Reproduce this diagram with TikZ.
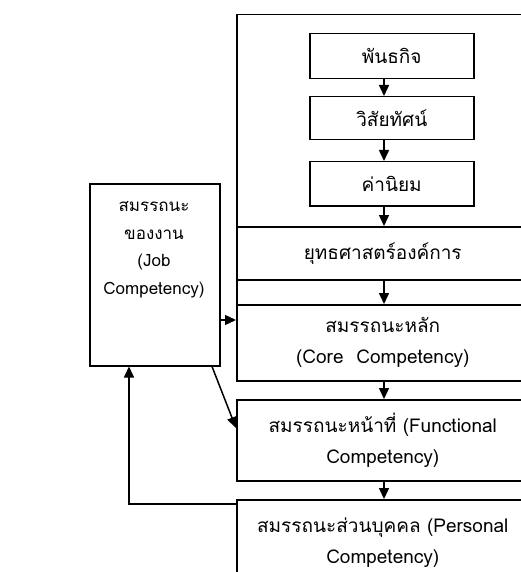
\documentclass[tikz,border=0pt]{standalone}
\usepackage{fontspec}
\setmainfont[Script=Thai]{Loma}
\usetikzlibrary{arrows.meta}

\begin{document}
\begin{tikzpicture}[x=1pt, y=-1pt,
	box/.style={rectangle, draw=black, line width=1.5pt, inner sep=0pt, anchor=north west, align=center, font=\fontsize{19}{31}\selectfont},
	arr/.style={draw=black, line width=1.5pt, -{Triangle[width=10pt,length=11pt]}}]
			\useasboundingbox (0,0) rectangle (521,572);
			\clip (0,0) rectangle (521,572);
			
			\node[box, minimum width=292pt, minimum height=366pt] (frame) at (236,14){};
			\node[box, minimum width=164pt, minimum height=45pt] (mission) at (309,33){พันธกิจ};
			\node[box, minimum width=164pt, minimum height=43pt] (vision) at (309,96){วิสัยทัศน์};
			\node[box, minimum width=164pt, minimum height=44pt] (values) at (309,161){ค่านิยม};
			\node[box, minimum width=292pt, minimum height=53pt] (strategy) at (236,226){ยุทธศาสตร์องค์การ};
			\node[box, minimum width=292pt, minimum height=76pt] (core) at (236,304){สมรรถนะหลัก\\(Core~ Competency)};
			\node[box, minimum width=292pt, minimum height=81pt] (func) at (236,399){สมรรถนะหน้าที่ (Functional\\Competency)};
			\node[box, minimum width=292pt, minimum height=85pt] (pers) at (236,499){สมรรถนะส่วนบุคคล (Personal\\Competency)};
			\node[box, minimum width=130pt, minimum height=182pt] (job) at (89,183){};
			\node[align=center, font=\fontsize{17}{27.5}\selectfont] (jobtext) at (154,250){สมรรถนะ\\ของงาน\\(Job\\Competency)};
			
			\coordinate (spine) at (384,0);
			\coordinate (jc) at (0,320);
			\coordinate (d1) at (212,0);
			\coordinate (d2) at (0,428);
			\coordinate (fbx) at (129,0);
			\coordinate (fby) at (0,504);
			
			\draw[arr] (mission.south -| spine) -- (vision.north -| spine);
			\draw[arr] (vision.south -| spine) -- (values.north -| spine);
			\draw[arr] (values.south -| spine) -- (strategy.north -| spine);
			\draw[arr] (strategy.south -| spine) -- (core.north -| spine);
			\draw[arr] (core.south -| spine) -- (func.north -| spine);
			\draw[arr] (func.south -| spine) -- (pers.north -| spine);
			\draw[arr] (job.east |- jc) -- (core.west |- jc);
			\draw[arr] (job.south -| d1) -- (func.west |- d2);
			\draw[arr] (pers.west |- fby) -| (job.south -| fbx);
			\end{tikzpicture}
\end{document}
